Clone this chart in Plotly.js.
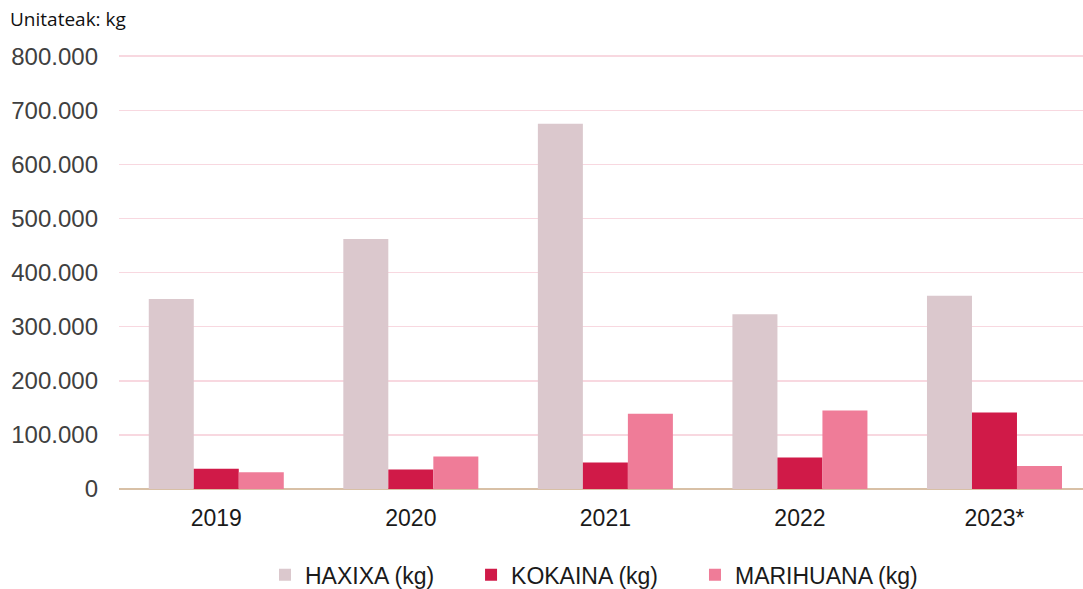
<!DOCTYPE html>
<html>
<head>
<meta charset="utf-8">
<script src="https://cdn.plot.ly/plotly-3.0.1.min.js"></script>
<style>html,body{margin:0;padding:0;background:#fff;}#chart{width:1083px;height:589px;}</style>
</head>
<body>
<div id="chart"></div>
<script>
const years = ["2019", "2020", "2021", "2022", "2023*"];
const haxixa = [351000, 462000, 675000, 323000, 357000];
const kokaina = [37500, 36000, 49000, 58000, 141500];
const marihuana = [31000, 60000, 139000, 145000, 42500];
const seriesNames = ["HAXIXA (kg)", "KOKAINA (kg)", "MARIHUANA (kg)"];
const seriesColors = ["#dbc8cd", "#d01a48", "#ef7c98"];
const yTicks = [0, 100000, 200000, 300000, 400000, 500000, 600000, 700000, 800000];

const pad = "\u00a0\u00a0\u00a0\u00a0\u00a0";
const allValues = [haxixa, kokaina, marihuana];
const traces = allValues.map((vals, i) => ({
  type: "bar",
  x: years,
  y: vals,
  name: seriesNames[i] + (i < 2 ? pad : ""),
  marker: {color: seriesColors[i]},
  hoverinfo: "skip"
}));

const layout = {
  width: 1083,
  height: 589,
  margin: {l: 119, r: 0, t: 54, b: 100},
  paper_bgcolor: "#ffffff",
  plot_bgcolor: "#ffffff",
  separators: ",.",
  barmode: "group",
  bargap: 0.306,
  bargroupgap: 0,
  font: {family: "Liberation Sans, Arial, sans-serif", color: "#404040"},
  xaxis: {
    type: "category",
    range: [-0.5, 4.455],
    showgrid: false,
    showline: false,
    ticks: "",
    tickfont: {size: 23, color: "#1a1a1a"},
    ticklabelstandoff: 13
  },
  yaxis: {
    range: [0, 804000],
    tickvals: yTicks,
    tickformat: ",d",
    showgrid: true,
    gridcolor: "#f8d8e0",
    gridwidth: 1.5,
    zeroline: true,
    zerolinecolor: "#d8c0a6",
    zerolinewidth: 2,
    ticks: "",
    tickfont: {size: 24, color: "#404040"},
    ticklabelstandoff: 20
  },
  legend: {
    orientation: "h",
    x: 0.5 - 7/964,
    xanchor: "center",
    yref: "container",
    y: 0.024,
    yanchor: "middle",
    font: {size: 23, color: "#1a1a1a"},
    itemclick: false
  },
  annotations: [{
    text: "Unitateak: kg",
    xref: "paper",
    yref: "paper",
    x: -119/964,
    xanchor: "left",
    xshift: 8,
    y: 1,
    yanchor: "middle",
    yshift: 35,
    showarrow: false,
    font: {family: "Open Sans, Noto Sans, sans-serif", size: 19, color: "#111111"}
  }],
  showlegend: true
};

Plotly.newPlot("chart", traces, layout, {displayModeBar: false, staticPlot: true});
</script>
</body>
</html>
